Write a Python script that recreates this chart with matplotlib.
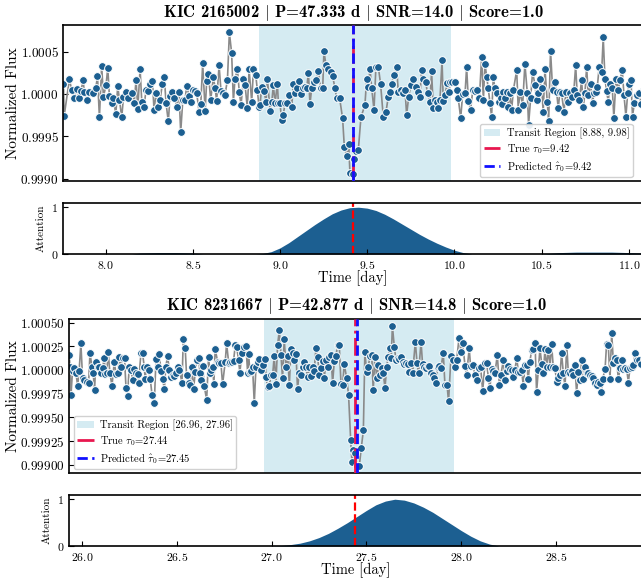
import numpy as np
import matplotlib
matplotlib.use("Agg")
import matplotlib.pyplot as plt
from matplotlib.ticker import MultipleLocator, ScalarFormatter
from matplotlib.patches import Patch
from matplotlib.lines import Line2D

plt.rcParams['font.family'] = ['cmr10']
plt.rcParams['mathtext.fontset'] = 'cm'
plt.rcParams['axes.formatter.use_mathtext'] = True
plt.rcParams['axes.unicode_minus'] = False
plt.rcParams['xtick.direction'] = 'in'
plt.rcParams['ytick.direction'] = 'in'

# ---- KIC 2165002 ----
title_a = "KIC 2165002 $|$ P=47.333 d $|$ SNR=14.0 $|$ Score=1.0"
transit_a = (8.88, 9.98)
tau_true_a = 9.42
tau_pred_a = 9.42
xlim_a = (7.758, 11.081)
time_a = [
    7.759, 7.763, 7.793, 7.806, 7.820, 7.835, 7.850, 7.858, 7.873, 7.877,
    7.892, 7.908, 7.931, 7.944, 7.954, 7.965, 7.978, 7.988, 8.003, 8.013,
    8.022, 8.036, 8.045, 8.059, 8.070, 8.080, 8.093, 8.103, 8.116, 8.131,
    8.150, 8.164, 8.175, 8.185, 8.198, 8.208, 8.221, 8.232, 8.246, 8.255,
    8.269, 8.278, 8.290, 8.303, 8.313, 8.326, 8.337, 8.347, 8.360, 8.370,
    8.383, 8.395, 8.408, 8.421, 8.431, 8.443, 8.456, 8.465, 8.479, 8.490,
    8.504, 8.513, 8.523, 8.536, 8.546, 8.557, 8.571, 8.580, 8.590, 8.603,
    8.618, 8.628, 8.637, 8.651, 8.662, 8.676, 8.685, 8.699, 8.710, 8.723,
    8.733, 8.742, 8.756, 8.767, 8.777, 8.790, 8.800, 8.813, 8.823, 8.838,
    8.848, 8.861, 8.870, 8.880,
    8.886, 8.895, 8.909, 8.920, 8.928, 8.943, 8.953, 8.962, 8.972, 8.985,
    8.991, 9.000, 9.010, 9.019, 9.029, 9.042, 9.054, 9.067, 9.077, 9.086,
    9.096, 9.111, 9.119, 9.134, 9.144, 9.153, 9.163, 9.172, 9.182, 9.195,
    9.207, 9.220, 9.233, 9.245, 9.252, 9.264, 9.277, 9.291, 9.302, 9.315,
    9.325, 9.342, 9.359, 9.369, 9.382, 9.394, 9.401, 9.417, 9.426, 9.436,
    9.449, 9.464, 9.487, 9.497, 9.506, 9.516, 9.526, 9.539, 9.550, 9.564,
    9.577, 9.592, 9.608, 9.621, 9.631, 9.640, 9.654, 9.669, 9.678, 9.692,
    9.707, 9.717, 9.726, 9.738, 9.749, 9.764, 9.778, 9.789, 9.802, 9.812,
    9.822, 9.835, 9.846, 9.860, 9.869, 9.879, 9.889, 9.898, 9.908, 9.917,
    9.929, 9.936, 9.946, 9.959, 9.969,
    9.975, 9.988, 10.003, 10.013, 10.022, 10.036, 10.047, 10.061, 10.070, 10.080,
    10.093, 10.105, 10.118, 10.131, 10.143, 10.156, 10.166, 10.175, 10.185, 10.194,
    10.204, 10.213, 10.223, 10.232, 10.242, 10.257, 10.265, 10.271, 10.280, 10.290,
    10.299, 10.309, 10.318, 10.328, 10.338, 10.357, 10.366, 10.376, 10.391, 10.404,
    10.418, 10.425, 10.437, 10.448, 10.462, 10.471, 10.481, 10.490, 10.500, 10.509,
    10.519, 10.532, 10.540, 10.551, 10.563, 10.576, 10.586, 10.595, 10.605, 10.614,
    10.628, 10.639, 10.653, 10.662, 10.672, 10.685, 10.695, 10.704, 10.716, 10.729,
    10.739, 10.748, 10.758, 10.767, 10.781, 10.792, 10.800, 10.811, 10.819, 10.830,
    10.844, 10.853, 10.863, 10.872, 10.882, 10.891, 10.905, 10.914, 10.926, 10.939,
    10.949, 10.962, 10.972, 10.983, 10.993, 11.002, 11.012, 11.021, 11.031, 11.044,
    11.058, 11.070, 11.084,
]
# flux deviation from 1.0 in ppm
flux_ppm_a = [
    112, -258, 174, 46, -52, 57, -52, 34, 162, 26,
    -71, 26, 7, 65, 209, -277, 330, -32, 104, 310,
    -21, -110, -52, -238, 96, -71, -277, -32, 18, -52,
    7, -110, 162, -176, 298, -91, -149, 46, 34, 112,
    154, -188, 7, -149, -71, 123, 201, -110, -324, -21,
    26, -44, -149, 26, -452, -71, -71, 92, -21, -91,
    46, 34, 7, -207, -122, 361, -199, 154, 232, -71,
    201, 73, -79, 337, 34, 7, -13, 170, 726, 481,
    -91, 174, 291, 18, -130, 174, 104, -168, 291, -91,
    291, 228, 46, -149,
    -130, 84, 34, -91, 182, -199, -98, 104, -110, 123,
    -110, -110, -305, -246, -110, -110, -13, -149, 112, 7,
    65, 151, -5, 65, 84, 65, 252, -122, 73, 143,
    162, 267, 65, 65, 505, 337, 298, 260, 213, 65,
    -44, -52, -285, -627, -732, -588, -927, -946, -771, -674,
    -666, -277, -130, 182, 84, 298, 65, -188, 318, 318,
    112, -266, -207, -32, 26, 123, 221, 318, 26, 46,
    7, 46, -246, -32, 104, 182, 84, 26, -32, 279,
    174, 143, 7, -91, 267, -168, -71, -91, -168, -71,
    396, -83, -13, 135, 26,
    143, 143, 143, 46, -52, -285, -5, 7, 318, -83,
    -188, 46, 34, 46, -52, 435, -71, 357, 201, 65,
    -110, -266, 201, 65, 7, -91, -52, -122, 26, -44,
    26, -149, 7, -188, 46, 279, -188, 26, -130, 357,
    7, -363, -52, 260, 104, -71, 7, 182, 65, -207,
    298, -91, -324, 512, 46, 143, 26, -168, 26, 7,
    -207, 26, -91, 7, -32, 46, 337, -13, -71, 162,
    -149, 7, 318, -13, 123, -110, 7, 26, 84, 318,
    260, 668, 182, 34, -91, 123, 65, -285, 182, 46,
    162, 279, -13, -266, 7, 123, 162, -266, -110, -13,
    7, -120, 60,
]
att_time_a = [7.758, 8.15, 8.20, 8.30, 8.40, 8.50, 8.56, 8.86, 8.90, 8.95,
              9.00, 9.05, 9.10, 9.15, 9.20, 9.25, 9.30, 9.35, 9.40, 9.45,
              9.50, 9.55, 9.60, 9.65, 9.70, 9.75, 9.80, 9.85, 9.90, 9.95,
              10.00, 10.05, 10.10, 10.50, 10.60, 10.70, 10.80, 10.90, 11.00, 11.081]
att_a = [0.0, 0.0, 0.02, 0.03, 0.03, 0.02, 0.0, 0.0, 0.01, 0.05,
         0.13, 0.24, 0.37, 0.50, 0.63, 0.75, 0.86, 0.94, 0.99, 1.00,
         0.98, 0.93, 0.85, 0.75, 0.64, 0.53, 0.42, 0.32, 0.23, 0.15,
         0.08, 0.03, 0.0, 0.0, 0.03, 0.04, 0.04, 0.04, 0.03, 0.02]
xticks_a = [8.0, 8.5, 9.0, 9.5, 10.0, 10.5, 11.0]

# ---- KIC 8231667 ----
title_b = "KIC 8231667 $|$ P=42.877 d $|$ SNR=14.8 $|$ Score=1.0"
transit_b = (26.96, 27.96)
tau_true_b = 27.44
tau_pred_b = 27.45
xlim_b = (25.934, 28.958)
time_b = [
    25.934, 25.937, 25.943, 25.951, 25.960, 25.969, 25.978, 25.986, 25.995, 26.004,
    26.013, 26.025, 26.036, 26.043, 26.053, 26.060, 26.067, 26.074, 26.083, 26.092,
    26.101, 26.110, 26.118, 26.124, 26.131, 26.139, 26.148, 26.159, 26.171, 26.180,
    26.189, 26.197, 26.206, 26.218, 26.225, 26.233, 26.241, 26.250, 26.259, 26.268,
    26.276, 26.285, 26.294, 26.299, 26.312, 26.320, 26.329, 26.334, 26.341, 26.352,
    26.361, 26.370, 26.382, 26.391, 26.399, 26.408, 26.417, 26.426, 26.435, 26.443,
    26.452, 26.461, 26.470, 26.479, 26.487, 26.496, 26.505, 26.514, 26.528, 26.535,
    26.545, 26.552, 26.563, 26.570, 26.580, 26.589, 26.598, 26.607, 26.616, 26.623,
    26.628, 26.637, 26.645, 26.658, 26.668, 26.675, 26.682, 26.689, 26.696, 26.703,
    26.716, 26.725, 26.733, 26.742, 26.756, 26.763, 26.774, 26.781, 26.791, 26.800,
    26.809, 26.816, 26.826, 26.833, 26.844, 26.853, 26.865, 26.874, 26.879, 26.886,
    26.893, 26.900, 26.909, 26.918, 26.927, 26.935, 26.944, 26.953, 26.965,
    26.971, 26.979, 26.988, 26.997, 27.006, 27.014, 27.023, 27.032, 27.041, 27.050,
    27.058, 27.067, 27.076, 27.085, 27.094, 27.102, 27.111, 27.120, 27.129, 27.137,
    27.146, 27.155, 27.164, 27.173, 27.181, 27.190, 27.199, 27.208, 27.217, 27.225,
    27.234, 27.243, 27.252, 27.260, 27.269, 27.278, 27.287, 27.296, 27.304, 27.313,
    27.322, 27.331, 27.340, 27.348, 27.357, 27.366, 27.375, 27.383, 27.396, 27.406,
    27.417, 27.424, 27.431, 27.440, 27.450, 27.463, 27.473, 27.484, 27.492, 27.501,
    27.510, 27.519, 27.528, 27.536, 27.545, 27.554, 27.563, 27.571, 27.580, 27.589,
    27.598, 27.607, 27.615, 27.624, 27.631, 27.637, 27.647, 27.656, 27.665, 27.673,
    27.682, 27.691, 27.700, 27.709, 27.717, 27.726, 27.735, 27.744, 27.758, 27.767,
    27.775, 27.788, 27.796, 27.805, 27.814, 27.823, 27.832, 27.840, 27.849, 27.858,
    27.867, 27.875, 27.884, 27.893, 27.905, 27.914, 27.925, 27.933, 27.946, 27.955,
    27.967,
    27.976, 27.988, 27.999, 28.007, 28.020, 28.028, 28.042, 28.049, 28.060, 28.072,
    28.085, 28.095, 28.102, 28.113, 28.125, 28.134, 28.143, 28.151, 28.160, 28.169,
    28.178, 28.190, 28.201, 28.209, 28.222, 28.230, 28.239, 28.248, 28.257, 28.266,
    28.274, 28.283, 28.292, 28.301, 28.310, 28.318, 28.327, 28.336, 28.345, 28.353,
    28.362, 28.371, 28.380, 28.389, 28.397, 28.406, 28.415, 28.424, 28.433, 28.441,
    28.450, 28.459, 28.468, 28.476, 28.485, 28.494, 28.503, 28.512, 28.520, 28.529,
    28.538, 28.547, 28.556, 28.564, 28.573, 28.582, 28.591, 28.599, 28.608, 28.617,
    28.626, 28.635, 28.643, 28.652, 28.661, 28.670, 28.679, 28.687, 28.696, 28.705,
    28.714, 28.722, 28.731, 28.738, 28.745, 28.758, 28.766, 28.775, 28.784, 28.793,
    28.802, 28.810, 28.819, 28.828, 28.837, 28.845, 28.854, 28.863, 28.872, 28.881,
    28.889, 28.898, 28.907, 28.916, 28.925, 28.937, 28.950, 28.965, 28.980,
]
flux_ppm_b = [
    159, 36, -262, -6, 19, -34, -167, -6, 282, -86,
    -104, -122, -132, 184, 36, -34, -216, 89, 36, 29,
    -27, 19, 131, -41, -34, 194, -34, -167, 89, -41,
    -27, 142, 36, 131, 124, -192, -272, 36, 1, -104,
    8, -34, -41, -132, 184, 177, 36, -97, 36, 1,
    -97, -262, -350, 114, 29, 170, -6, -97, -202, 36,
    149, 1, -69, -51, -62, -34, 36, 1, -132, 324,
    229, -51, -139, -157, 29, -202, -16, 107, 124, -34,
    -104, 43, -167, -315, 142, -27, 1, 36, -150, 219,
    89, 78, 78, -150, 89, 282, 78, 89, 89, 100,
    265, 247, 107, -27, 184, 247, 258, -27, 170, -16,
    -6, 29, -350, 36, 89, 114, 1, 54, 114,
    -69, -181, -167, -51, -51, 149, -146, 265, 422, 159,
    -86, 324, 36, 149, -157, 219, 184, 107, 170, -202,
    -27, -51, 29, 89, 29, -69, 29, -62, 29, -6,
    229, 142, -51, 19, 100, -86, 107, 36, 142, 159,
    -139, 100, 149, 265, 265, -146, -157, 64, -86, -262,
    -736, -974, -848, -876, -1017, -1010, -824, -638, 194, -16,
    36, 149, 159, -209, 142, -86, 54, -51, 19, -34,
    -192, 36, 142, 229, 124, 468, 247, 107, 124, 114,
    142, 89, 64, 72, 64, -16, 72, -27, 300, 72,
    -34, 300, 64, 36, 19, 43, 43, -27, -51, -86,
    -139, 36, 43, 19, 184, -157, -157, -332, 149, 107,
    36,
    107, 335, 194, 282, 43, -51, 229, 43, 54, -51,
    -104, 19, 29, -220, 72, 78, -86, -192, 8, -6,
    -27, 159, -157, -51, 107, -104, -6, 43, 8, 1,
    -69, 1, 131, -16, -16, 1, -167, 54, 54, -97,
    89, 212, 219, 289, -237, 1, 229, 64, -34, 219,
    36, 212, 36, 275, 29, 19, -122, -86, -51, 177,
    -34, -174, 265, -16, -27, -6, -51, 54, -244, -16,
    -104, 107, -97, 36, -34, -27, -51, -62, -86, -139,
    -157, -122, -139, -237, -97, 8, 275, 265, -97, 394,
    72, 124, 107, -97, 19, 107, 8, 19, 8, -132,
    19, 36, 54, 177, 107, 107, 60, 120, 80,
]
att_time_b = [25.934, 26.98, 27.05, 27.10, 27.15, 27.20, 27.25, 27.30, 27.35, 27.40,
              27.45, 27.50, 27.55, 27.60, 27.65, 27.70, 27.75, 27.80, 27.85, 27.90,
              27.95, 28.00, 28.05, 28.10, 28.15, 28.20, 28.958]
att_b = [0.0, 0.0, 0.01, 0.03, 0.06, 0.11, 0.18, 0.27, 0.38, 0.50,
         0.63, 0.76, 0.88, 0.96, 1.00, 0.98, 0.92, 0.83, 0.72, 0.59,
         0.46, 0.33, 0.21, 0.11, 0.04, 0.0, 0.0]
xticks_b = [26.0, 26.5, 27.0, 27.5, 28.0, 28.5]

point_color = '#1c5f91'
line_color = '#8a8a8a'
true_color = '#e8174f'
pred_color = '#1010ff'
region_color = 'lightblue'

W, H = 641, 581


def box(left, top, right, bottom):
    return [left / W, 1 - bottom / H, (right - left) / W, (bottom - top) / H]


def draw_panel(ax_f, ax_att, title, t, ppm, region, tau_true, tau_pred, xlim,
               att_t, att, xticks, ystep, leg_loc, leg_anchor, label_x):
    flux = 1.0 + np.array(ppm) * 1e-6
    ax_f.axvspan(region[0], region[1], color=region_color, alpha=0.5, lw=0, zorder=0)
    ax_f.plot(t, flux, '-o', color=line_color, lw=1.2, ms=5.6,
              mfc=point_color, mec='white', mew=0.7, zorder=2)
    ax_f.axvline(tau_true, color=true_color, ls='-.', lw=2, zorder=3)
    ax_f.axvline(tau_pred, color=pred_color, ls='--', lw=2, zorder=4)
    ax_f.set_xlim(*xlim)
    ax_f.yaxis.set_major_locator(MultipleLocator(ystep))
    fmt = ScalarFormatter(useOffset=False, useMathText=True)
    ax_f.yaxis.set_major_formatter(fmt)
    ax_f.tick_params(axis='x', bottom=False, labelbottom=False)
    ax_f.tick_params(axis='y', labelsize=9.5, length=3.5)
    ax_f.set_ylabel('Normalized Flux', fontsize=11)
    ax_f.yaxis.set_label_coords(label_x, 0.5)
    ax_f.set_title(title, fontsize=12, fontweight='bold', family=['cmb10'])
    handles = [
        Patch(facecolor=region_color, alpha=0.5,
              label=f'Transit Region [{region[0]:.2f}, {region[1]:.2f}]'),
        Line2D([], [], color=true_color, ls='-.', lw=2, label=rf'True $\tau_0$={tau_true:.2f}'),
        Line2D([], [], color=pred_color, ls='--', lw=2, label=rf'Predicted $\hat{{\tau}}_0$={tau_pred:.2f}'),
    ]
    ax_f.legend(handles=handles, loc=leg_loc, bbox_to_anchor=leg_anchor,
                borderaxespad=0, fontsize=7.6, framealpha=0.9, labelspacing=0.3,
                borderpad=0.3, handlelength=1.6, handletextpad=0.6)

    ax_att.fill_between(att_t, att, 0, color=point_color, lw=0)
    ax_att.axvline(tau_true, color='red', ls='--', lw=1.6)
    ax_att.set_xlim(*xlim)
    ax_att.set_ylim(0, 1.09)
    ax_att.set_yticks([0, 1])
    ax_att.set_xticks(xticks)
    ax_att.tick_params(labelsize=8.5, length=3.5)
    ax_att.set_ylabel('Attention', fontsize=8)
    ax_att.set_xlabel('Time [day]', fontsize=10.5, labelpad=0)
    for ax in (ax_f, ax_att):
        for sp in ax.spines.values():
            sp.set_linewidth(1.2)


fig = plt.figure(figsize=(6.41, 5.81), dpi=100)
ax1 = fig.add_axes(box(63.3, 25.3, 643, 181.3))
ax2 = fig.add_axes(box(63.3, 203, 643, 254))
ax3 = fig.add_axes(box(69.3, 318.7, 643, 473.3))
ax4 = fig.add_axes(box(69.3, 495, 643, 546))

draw_panel(ax1, ax2, title_a, time_a, flux_ppm_a, transit_a, tau_true_a, tau_pred_a,
           xlim_a, att_time_a, att_a, xticks_a, 0.0005, 'lower right', (0.982, 0.028),
           -0.075)
draw_panel(ax3, ax4, title_b, time_b, flux_ppm_b, transit_b, tau_true_b, tau_pred_b,
           xlim_b, att_time_b, att_b, xticks_b, 0.00025, 'lower left', (0.008, 0.028),
           -0.086)

fig.savefig('out.png', dpi=100)
